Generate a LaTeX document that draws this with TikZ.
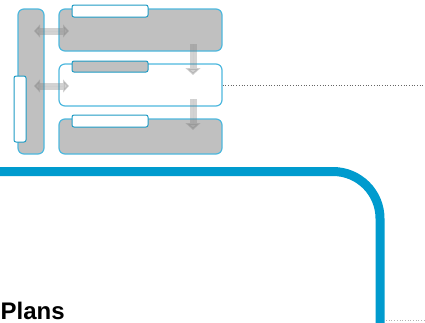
\documentclass[tikz,border=0pt]{standalone}
\usepackage{fontspec}
\setmainfont{Liberation Sans}
\usepackage{tikz}
\usepackage{xcolor}
\usetikzlibrary{arrows.meta, positioning}

\definecolor{boxline}{RGB}{77,184,222}
\definecolor{tabline}{RGB}{30,155,196}
\definecolor{bigblue}{RGB}{0,155,206}
\definecolor{boxgray}{RGB}{192,192,192}

\tikzset{
  graybox/.style={draw=boxline, line width=1.2pt, fill=boxgray, rounded corners=6pt, inner sep=0pt},
  whitebox/.style={draw=boxline, line width=1.2pt, fill=white, rounded corners=6pt, inner sep=0pt},
  graytab/.style={draw=tabline, line width=1pt, fill=boxgray, rounded corners=2pt, inner sep=0pt},
  whitetab/.style={draw=tabline, line width=1pt, fill=white, rounded corners=2pt, inner sep=0pt},
  flow/.style={line width=7pt, draw=gray, fill=gray, opacity=0.35},
  flowtip/.style={-{Triangle[width=15pt,length=7pt]}},
  flowtips/.style={{Triangle[width=13pt,length=6pt]}-{Triangle[width=13pt,length=6pt]}}
}

\begin{document}
\begin{tikzpicture}[x=1pt,y=1pt,yscale=-1,xscale=1]
\useasboundingbox (0,0) rectangle (425,322);

%Rounded Rect [id:side]
\node (side) [graybox, minimum width=26pt, minimum height=145pt] at (31,81.5) {};
%Rounded Rect [id:sidetab]
\node (sidetab) [whitetab, minimum width=12pt, minimum height=66pt] at (20,109) {};

%Rounded Rect [id:plana]
\node (plana) [graybox, minimum width=163pt, minimum height=42pt] at (140.5,30) {};
%Rounded Rect [id:planb]
\node (planb) [whitebox, minimum width=163pt, minimum height=42pt] at (140.5,85) {};
%Rounded Rect [id:planc]
\node (planc) [graybox, minimum width=163pt, minimum height=35pt] at (140.5,136.5) {};

%Tabs
\node (taba) [whitetab, minimum width=76pt, minimum height=12pt] at (110,11) {};
\node (tabb) [graytab, minimum width=76pt, minimum height=11pt] at (110,66.5) {};
\node (tabc) [whitetab, minimum width=76pt, minimum height=12pt] at (110,121) {};

%Arrow ends
\coordinate (sa) at (34,31);
\coordinate (ea) at (69,31);
\coordinate (sb) at (34,86);
\coordinate (eb) at (69,86);
\coordinate (da1) at (193,44);
\coordinate (da2) at (193,75);
\coordinate (db1) at (193,99);
\coordinate (db2) at (193,130);

%Arrows
\draw [flow, flowtips] (sa) -- (ea) ;
\draw [flow, flowtips] (sb) -- (eb) ;
\draw [flow, flowtip] (da1) -- (da2) ;
\draw [flow, flowtip] (db1) -- (db2) ;

%Dotted Lines
\coordinate (dotend) at (425,85);
\draw [gray!80!black, dotted, line width=0.7pt] (planb.east) -- (dotend) ;
\coordinate (lowa) at (386,320.5);
\coordinate (lowb) at (425,320.5);
\draw [gray!60, dotted, line width=0.7pt] (lowa) -- (lowb) ;

%Thick Line
\coordinate (ba) at (0,171.5);
\coordinate (bb) at (380,171.5);
\coordinate (bc) at (380,335);
\draw [bigblue, line width=9pt, rounded corners=47pt] (ba) -- (bb) -- (bc) ;

% Text Node
\node (title) [anchor=base west, inner sep=0pt, font=\bfseries\fontsize{24}{28}\selectfont] at (0.5,319.5) {Plans};

\end{tikzpicture}
\end{document}
